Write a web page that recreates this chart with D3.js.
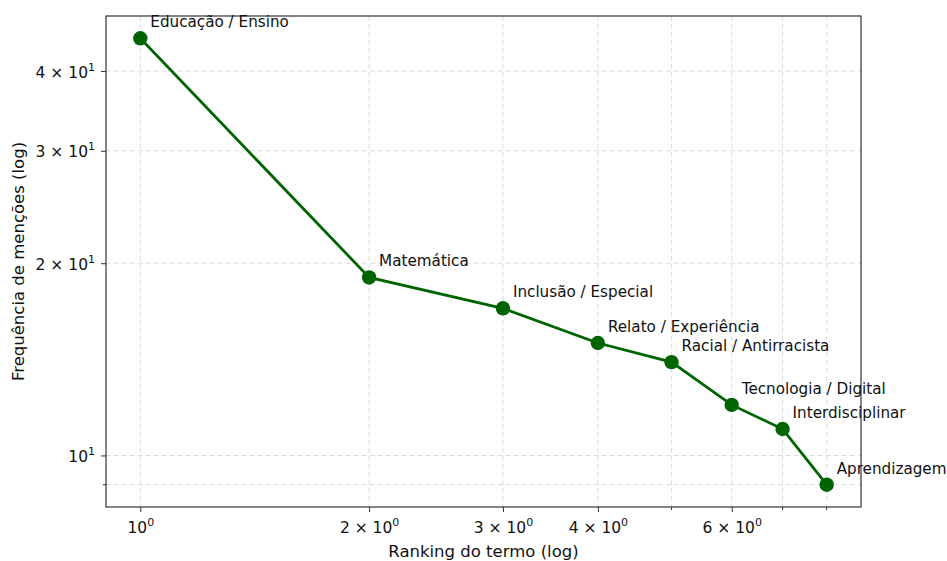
<!DOCTYPE html>
<html>
<head>
<meta charset="utf-8">
<script src="https://cdn.jsdelivr.net/npm/d3@7"></script>
<style>
  body { margin: 0; background: #fff; }
  text { font-family: "DejaVu Sans", sans-serif; fill: #111; }
  .grid line { stroke: #ddd; stroke-dasharray: 5,3; stroke-width: 1; }
</style>
</head>
<body>
<svg id="chart"></svg>
<script>
// data
const terms = ["Educação / Ensino", "Matemática", "Inclusão / Especial", "Relato / Experiência",
  "Racial / Antirracista", "Tecnologia / Digital", "Interdisciplinar", "Aprendizagem"];
const ranks = [1, 2, 3, 4, 5, 6, 7, 8];
const freqs = [45, 19, 17, 15, 14, 12, 11, 9];

const xMajor = [1];
const xMinorLabeled = [2, 3, 4, 6];
const xMinor = [2, 3, 4, 5, 6, 7, 8];
const yMajor = [10];
const yMinorLabeled = [20, 30, 40];
const yMinor = [9, 20, 30, 40];

const config = {
  width: 947, height: 561,
  margin: {top: 16, right: 86, bottom: 54, left: 106}
};

const svg = d3.select('#chart')
  .attr('width', config.width)
  .attr('height', config.height);

const w = config.width - config.margin.left - config.margin.right;
const h = config.height - config.margin.top - config.margin.bottom;

const chart = svg.append('g')
  .attr('transform', `translate(${config.margin.left},${config.margin.top})`);

// matplotlib-like 5% margins in log space
function padLog(ext) {
  const a = Math.log10(ext[0]), b = Math.log10(ext[1]);
  const p = (b - a) * 0.05;
  return [Math.pow(10, a - p), Math.pow(10, b + p)];
}

const xScale = d3.scaleLog().domain(padLog(d3.extent(ranks))).range([0, w]);
const yScale = d3.scaleLog().domain(padLog(d3.extent(freqs))).range([h, 0]);

// gridlines (major + minor)
const xGridVals = xMajor.concat(xMinor);
const yGridVals = yMajor.concat(yMinor);

chart.append('g').attr('class', 'grid')
  .selectAll('line').data(xGridVals).join('line')
  .attr('x1', d => xScale(d)).attr('x2', d => xScale(d))
  .attr('y1', 0).attr('y2', h);

chart.append('g').attr('class', 'grid')
  .selectAll('line').data(yGridVals).join('line')
  .attr('y1', d => yScale(d)).attr('y2', d => yScale(d))
  .attr('x1', 0).attr('x2', w);

// tick label with superscript, e.g. 2 × 10^0
function sciLabel(sel, v) {
  const exp = Math.floor(Math.log10(v) + 1e-9);
  const mant = Math.round(v / Math.pow(10, exp));
  sel.text(null);
  if (mant !== 1) sel.append('tspan').text(mant + ' \u00d7 ');
  sel.append('tspan').text('10');
  sel.append('tspan').attr('dy', -7).attr('font-size', '11px').text(exp);
}

const xAxis = d3.axisBottom(xScale).tickValues(xMajor.concat(xMinorLabeled))
  .tickSize(5).tickPadding(6).tickFormat('');
const yAxis = d3.axisLeft(yScale).tickValues(yMajor.concat(yMinorLabeled))
  .tickSize(5).tickPadding(6).tickFormat('');

const xAxisG = chart.append('g').attr('transform', `translate(0,${h})`).call(xAxis);
const yAxisG = chart.append('g').call(yAxis);

[xAxisG, yAxisG].forEach(g => {
  g.select('.domain').remove();
  g.selectAll('line').attr('stroke', '#333');
});

// unlabeled minor ticks
chart.append('g').selectAll('line')
  .data(xMinor.filter(d => !xMinorLabeled.includes(d))).join('line')
  .attr('x1', d => xScale(d)).attr('x2', d => xScale(d))
  .attr('y1', h).attr('y2', h + 3).attr('stroke', '#333');
chart.append('g').selectAll('line')
  .data(yMinor.filter(d => !yMinorLabeled.includes(d))).join('line')
  .attr('y1', d => yScale(d)).attr('y2', d => yScale(d))
  .attr('x1', 0).attr('x2', -3).attr('stroke', '#333');

xAxisG.selectAll('.tick text')
  .attr('font-size', '15.5px').attr('dy', '0.95em')
  .each(function(d) { sciLabel(d3.select(this), d); });
yAxisG.selectAll('.tick text')
  .attr('font-size', '15.5px').attr('dy', '0.4em')
  .each(function(d) { sciLabel(d3.select(this), d); });

// frame
chart.append('rect')
  .attr('width', w).attr('height', h)
  .attr('fill', 'none').attr('stroke', '#333').attr('stroke-width', 1.2);

// line + markers
const pts = ranks.map((r, i) => ({rank: r, freq: freqs[i], term: terms[i]}));

chart.append('path')
  .datum(pts)
  .attr('fill', 'none')
  .attr('stroke', '#006400')
  .attr('stroke-width', 2.8)
  .attr('d', d3.line().x(d => xScale(d.rank)).y(d => yScale(d.freq)));

chart.selectAll('.point')
  .data(pts).join('circle')
  .attr('class', 'point')
  .attr('r', 7.2)
  .attr('fill', '#006400')
  .attr('cx', d => xScale(d.rank))
  .attr('cy', d => yScale(d.freq));

chart.selectAll('.label')
  .data(pts).join('text')
  .attr('class', 'label')
  .attr('font-size', '15.2px')
  .attr('x', d => xScale(d.rank) + 10)
  .attr('y', d => yScale(d.freq) - 11)
  .text(d => d.term);

// axis titles
svg.append('text')
  .attr('x', config.margin.left + w / 2)
  .attr('y', 557)
  .attr('text-anchor', 'middle')
  .attr('font-size', '16.5px')
  .text('Ranking do termo (log)');

svg.append('text')
  .attr('transform', `translate(24,${config.margin.top + h / 2}) rotate(-90)`)
  .attr('text-anchor', 'middle')
  .attr('font-size', '16.5px')
  .text('Frequência de menções (log)');
</script>
</body>
</html>
